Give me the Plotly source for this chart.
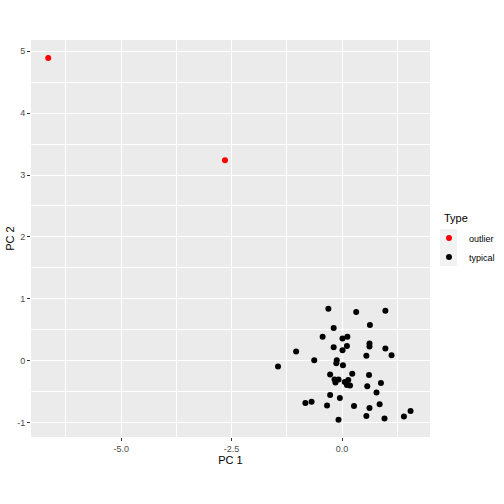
import plotly.graph_objects as go

# Data
outlier_pc1 = [-6.65, -2.65]
outlier_pc2 = [4.89, 3.24]

typical_pc1 = [-0.31, 0.32, 0.98, -0.19, 0.63, -0.44, 0.01, 0.12, -0.19, 0.11,
               0.01, 0.62, 0.62, 0.98, -1.04, 1.12, 0.55, -0.63, -0.12, -0.13,
               0.02, -1.45, -0.27, 0.23, 0.61, -0.17, -0.08, 0.14, -0.15, 0.06,
               0.11, 0.18, 0.88, 0.57, 0.78, -0.27, -0.05, -0.83, -0.69, -0.34,
               0.27, 0.62, 0.85, 1.55, 1.40, 0.55, 0.96, -0.08]
typical_pc2 = [0.84, 0.79, 0.81, 0.53, 0.58, 0.39, 0.36, 0.39, 0.22, 0.24,
               0.17, 0.28, 0.23, 0.20, 0.15, 0.09, 0.08, 0.01, 0.01, -0.04,
               -0.07, -0.09, -0.22, -0.21, -0.23, -0.30, -0.30, -0.31, -0.35, -0.34,
               -0.39, -0.40, -0.36, -0.41, -0.51, -0.55, -0.60, -0.68, -0.66, -0.72,
               -0.73, -0.76, -0.70, -0.81, -0.90, -0.89, -0.93, -0.95]

x_ticks = [-5.0, -2.5, 0.0]
x_tick_labels = ["-5.0", "-2.5", "0.0"]
y_ticks = [-1, 0, 1, 2, 3, 4, 5]
y_tick_labels = ["-1", "0", "1", "2", "3", "4", "5"]
x_minor = [-6.25, -3.75, -1.25, 1.25]
y_minor = [-0.5, 0.5, 1.5, 2.5, 3.5, 4.5]

FONT = "Liberation Sans, Arial, sans-serif"

# plot area in pixels
L, R, T, B = 31, 430, 40, 437
PW, PH = R - L, B - T


def px_x(p):
    return (p - L) / PW


def px_y(p):
    return (B - p) / PH


fig = go.Figure()
fig.add_trace(go.Scatter(x=outlier_pc1, y=outlier_pc2, mode="markers", name="outlier",
                         marker=dict(color="#FF0000", size=6)))
fig.add_trace(go.Scatter(x=typical_pc1, y=typical_pc2, mode="markers", name="typical",
                         marker=dict(color="#000000", size=6)))

axis_common = dict(
    showgrid=True, gridcolor="white", gridwidth=1.1, zeroline=False,
    ticks="outside", ticklen=3, tickwidth=1, tickcolor="#333333",
    tickfont=dict(family=FONT, size=9, color="#4D4D4D"),
    showline=False, tickmode="array", automargin=False,
)

fig.update_xaxes(**axis_common, range=[-7.04, 1.99], tickvals=x_ticks, ticktext=x_tick_labels,
                 minor=dict(tickmode="array", tickvals=x_minor, showgrid=True,
                            gridcolor="white", gridwidth=0.5, ticks=""),
                 title=dict(text="PC 1", font=dict(family=FONT, size=11, color="black"), standoff=2))
fig.update_yaxes(**axis_common, range=[-1.23, 5.18], tickvals=y_ticks, ticktext=y_tick_labels,
                 minor=dict(tickmode="array", tickvals=y_minor, showgrid=True,
                            gridcolor="white", gridwidth=0.5, ticks=""),
                 title=dict(text="PC 2", font=dict(family=FONT, size=11, color="black"), standoff=0))

# legend key backgrounds (ggplot style)
fig.add_shape(type="rect", xref="paper", yref="paper",
              x0=px_x(440), x1=px_x(457), y0=px_y(266), y1=px_y(229),
              fillcolor="#F2F2F2", line=dict(width=0), layer="below")
fig.add_annotation(text="Type", xref="paper", yref="paper", x=px_x(442), y=px_y(218),
                   xanchor="left", yanchor="middle", showarrow=False,
                   font=dict(family=FONT, size=11, color="black"))

fig.update_layout(
    width=504, height=504,
    margin=dict(l=L, r=504 - R, t=T, b=504 - B, autoexpand=False),
    plot_bgcolor="#EBEBEB", paper_bgcolor="white",
    font=dict(family=FONT),
    legend=dict(font=dict(family=FONT, size=9, color="black"),
                x=px_x(429), xanchor="left", y=px_y(247.5), yanchor="middle",
                bgcolor="rgba(0,0,0,0)", itemwidth=30, tracegroupgap=0),
    showlegend=True,
)

fig.write_html("out.html", config={"displayModeBar": False},
               post_script="document.body.style.margin='0';document.body.style.overflow='hidden';")
